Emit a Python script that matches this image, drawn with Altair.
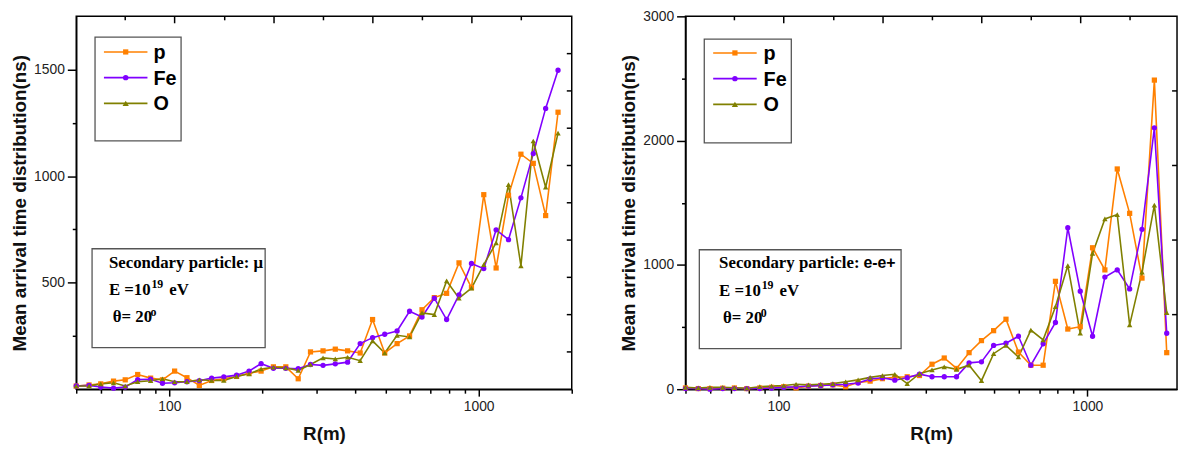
import altair as alt
import pandas as pd

# ---------------- data ----------------
R = [50, 55, 60, 66, 72, 79, 87, 95, 104, 114, 125, 137, 150, 165, 181, 198, 217, 238, 261, 286,
     314, 344, 377, 414, 454, 497, 545, 598, 656, 719, 788, 864, 948, 1039, 1139, 1249, 1370, 1502, 1647, 1806]

# muons
P_MU = [15, 20, 25, 38, 44, 69, 52, 44, 85, 54, 18, 41, 49, 60, 75, 85, 105, 105, 49, 175,
        180, 188, 180, 170, 327, 170, 214, 250, 373, 430, 450, 593, 477, 913, 569, 910, 1103, 1060, 815, 1300]
FE_MU = [15, 18, 10, 5, 10, 45, 47, 28, 30, 35, 40, 52, 58, 66, 85, 120, 98, 98, 96, 116,
         112, 119, 127, 214, 242, 258, 273, 366, 339, 427, 327, 443, 590, 566, 748, 702, 898, 1106, 1318, 1497]
O_MU = [15, 15, 25, 30, 15, 35, 40, 49, 35, 35, 44, 41, 41, 60, 72, 95, 103, 100, 88, 116,
        147, 142, 150, 134, 227, 170, 253, 245, 358, 350, 508, 427, 474, 585, 687, 960, 579, 1165, 948, 1202]

# electrons / positrons
P_E = [10, 5, 5, 8, 10, 5, 10, 15, 20, 10, 25, 30, 35, 20, 55, 65, 85, 95, 100, 110,
       201, 251, 167, 294, 391, 471, 563, 299, 193, 193, 868, 484, 503, 1138, 960, 1772, 1415, 894, 2487, 294]
FE_E = [5, 5, 0, 5, 5, 5, 5, 10, 15, 20, 25, 30, 35, 40, 50, 82, 92, 73, 92, 121,
        100, 100, 100, 212, 220, 352, 370, 426, 193, 365, 537, 1299, 788, 426, 902, 960, 807, 1286, 2103, 450]
O_E = [15, 10, 15, 15, 12, 8, 20, 25, 30, 40, 35, 40, 45, 60, 75, 95, 110, 120, 45, 125,
       155, 180, 160, 193, 69, 286, 352, 259, 476, 397, 664, 995, 450, 1093, 1370, 1405, 518, 942, 1481, 616]

SPECIES = ["p", "Fe", "O"]
COLORS = ["#FF8000", "#8000FF", "#808000"]
SHAPES = ["square", "circle", "triangle-up"]
SIZES = [28, 30, 40]

X_TICKS = [50, 60, 70, 80, 90, 100, 200, 300, 400, 500, 600, 700, 800, 900, 1000, 2000]
TOP_MAJOR = [104, 218, 455, 951]
TOP_MINOR = [72, 151, 315, 658, 1374]
Y_TICKS_MU = [250, 500, 750, 1000, 1250, 1500]
Y_TICKS_E = [0, 500, 1000, 1500, 2000, 2500, 3000]
RIGHT_TICKS_MU = [175, 350, 525, 700, 875, 1050, 1225, 1400, 1575]
RIGHT_TICKS_E = [600, 1200, 1800, 2400]

SANS = "Liberation Sans"
SERIF = "Liberation Serif"
ONE = pd.DataFrame({"a": [0]})
H = 377


def long_df(p, fe, o):
    rows = []
    for name, vals in zip(SPECIES, [p, fe, o]):
        for r, v in zip(R, vals):
            rows.append({"R": r, "T": v, "species": name})
    return pd.DataFrame(rows)


def txt(s, x, y, size, font, weight="bold"):
    return alt.Chart(ONE).mark_text(
        text=s, align="left", baseline="middle", font=font, fontSize=size,
        fontWeight=weight, color="black"
    ).encode(x=alt.value(x), y=alt.value(y))


def box(x1, x2, y1, y2):
    return alt.Chart(ONE).mark_rect(
        fill="white", fillOpacity=0, stroke="#555555", strokeWidth=1.3
    ).encode(x=alt.value(x1), x2=alt.value(x2), y=alt.value(y1), y2=alt.value(y2))


def panel(df, W, xdom, ydom, yticks, ymajor, right_ticks, legend_pos, ann, particle_mu):
    color = alt.Color("species:N", scale=alt.Scale(domain=SPECIES, range=COLORS), legend=None)
    shape = alt.Shape("species:N", scale=alt.Scale(domain=SPECIES, range=SHAPES), legend=None)
    size = alt.Size("species:N", scale=alt.Scale(domain=SPECIES, range=SIZES), legend=None)
    xscale = alt.Scale(type="log", domain=xdom, nice=False)
    yscale = alt.Scale(domain=ydom, nice=False, zero=False)
    xaxis = alt.Axis(
        title="R(m)", values=X_TICKS, format="d", grid=False, labelOverlap=False,
        labelExpr="datum.value == 100 || datum.value == 1000 ? datum.label : ''",
        tickSize={"condition": {"test": "datum.value == 100 || datum.value == 1000", "value": 7}, "value": 4},
        labelPadding=4, titlePadding=11,
    )
    yaxis = alt.Axis(
        title="Mean arrival time distribution(ns)", values=yticks, format="d", grid=False,
        labelOverlap=False,
        labelExpr=f"datum.value % {ymajor} == 0 ? datum.label : ''",
        tickSize={"condition": {"test": f"datum.value % {ymajor} == 0", "value": 9}, "value": 4},
        labelPadding=3, titlePadding=4,
    )
    base = alt.Chart(df)
    lines = base.mark_line(strokeWidth=1.6).encode(
        x=alt.X("R:Q", scale=xscale, axis=xaxis),
        y=alt.Y("T:Q", scale=yscale, axis=yaxis),
        color=color, detail="species:N",
    )
    pts = base.mark_point(filled=True, opacity=1).encode(
        x=alt.X("R:Q", scale=xscale, axis=xaxis), y=alt.Y("T:Q", scale=yscale, axis=yaxis),
        color=color, shape=shape, size=size,
    )
    top_major = alt.Chart(pd.DataFrame({"R": TOP_MAJOR})).mark_rule(color="black", strokeWidth=1.5).encode(
        x=alt.X("R:Q", scale=xscale, axis=xaxis), y=alt.value(0), y2=alt.value(7))
    top_minor = alt.Chart(pd.DataFrame({"R": TOP_MINOR})).mark_rule(color="black", strokeWidth=1.5).encode(
        x=alt.X("R:Q", scale=xscale, axis=xaxis), y=alt.value(0), y2=alt.value(4))
    right = alt.Chart(pd.DataFrame({"T": right_ticks})).mark_rule(color="black", strokeWidth=1.5).encode(
        y=alt.Y("T:Q", scale=yscale, axis=yaxis), x=alt.value(W), x2=alt.value(W - 5))

    lx1, lx2, ly1, ly2, ys, ltx = legend_pos
    legend_layers = [box(lx1, lx2, ly1, ly2)]
    for name, col, shp, sz, yy in zip(SPECIES, COLORS, SHAPES, SIZES, ys):
        legend_layers.append(alt.Chart(ONE).mark_rule(color=col, strokeWidth=1.6).encode(
            x=alt.value(lx1 + 9), x2=alt.value(lx1 + 53), y=alt.value(yy)))
        legend_layers.append(alt.Chart(ONE).mark_point(
            color=col, shape=shp, filled=True, opacity=1, size=sz).encode(
            x=alt.value(lx1 + 31), y=alt.value(yy)))
        legend_layers.append(txt(name, ltx, yy + 1, 20, SANS))

    bx1, bx2, by1, by2, tx, l1, l2, l3 = ann
    ann_layers = [box(bx1, bx2, by1, by2)]
    if particle_mu:
        ann_layers.append(txt("Secondary particle: μ", tx, l1, 17, SERIF))
    else:
        ann_layers.append(txt("Secondary particle:", tx, l1, 17, SERIF))
        ann_layers.append(txt("e-e+", tx + 146, l1, 16, SANS))
    ann_layers += [
        txt("E =10", tx, l2, 17, SERIF),
        txt("19", tx + 43, l2 - 6, 12, SERIF),
        txt("eV", tx + 61, l2, 17, SERIF),
        txt("θ= 20", tx + 4, l3, 17, SERIF),
        txt("o" if particle_mu else "0", tx + 42, l3 - 5, 12, SERIF),
    ]
    return alt.layer(lines, pts, top_major, top_minor, right, *legend_layers, *ann_layers).properties(
        width=W, height=H)


left = panel(long_df(P_MU, FE_MU, O_MU), 501, [50, 2000], [0, 1750], Y_TICKS_MU, 500, RIGHT_TICKS_MU,
             (19, 106, 21, 126, [36, 62, 88], 78),
             (16, 191, 235, 335, 33, 249, 277, 304), True)
right = panel(long_df(P_E, FE_E, O_E), 497, [50, 1950], [0, 3000], Y_TICKS_E, 1000, RIGHT_TICKS_E,
              (19, 107, 23, 128, [37, 63, 89], 79),
              (14, 218, 236, 336, 34, 249, 278, 305), False)

chart = alt.hconcat(left, right, spacing=46).properties(
    padding={"left": 2, "top": -2, "right": 0, "bottom": 0}
).configure_view(
    stroke="black", strokeWidth=1.5
).configure_axis(
    labelFont=SANS, labelFontSize=14, labelColor="#222222",
    titleFont=SANS, titleFontSize=18, titleFontWeight="bold", titleColor="#111111",
    domainColor="black", domainWidth=1.5, tickColor="black", tickWidth=1.5,
).configure_axisX(titleFontSize=19).configure_axisY(titleFontSize=19)

chart.save("out.html", embed_options={"renderer": "svg", "actions": False})
